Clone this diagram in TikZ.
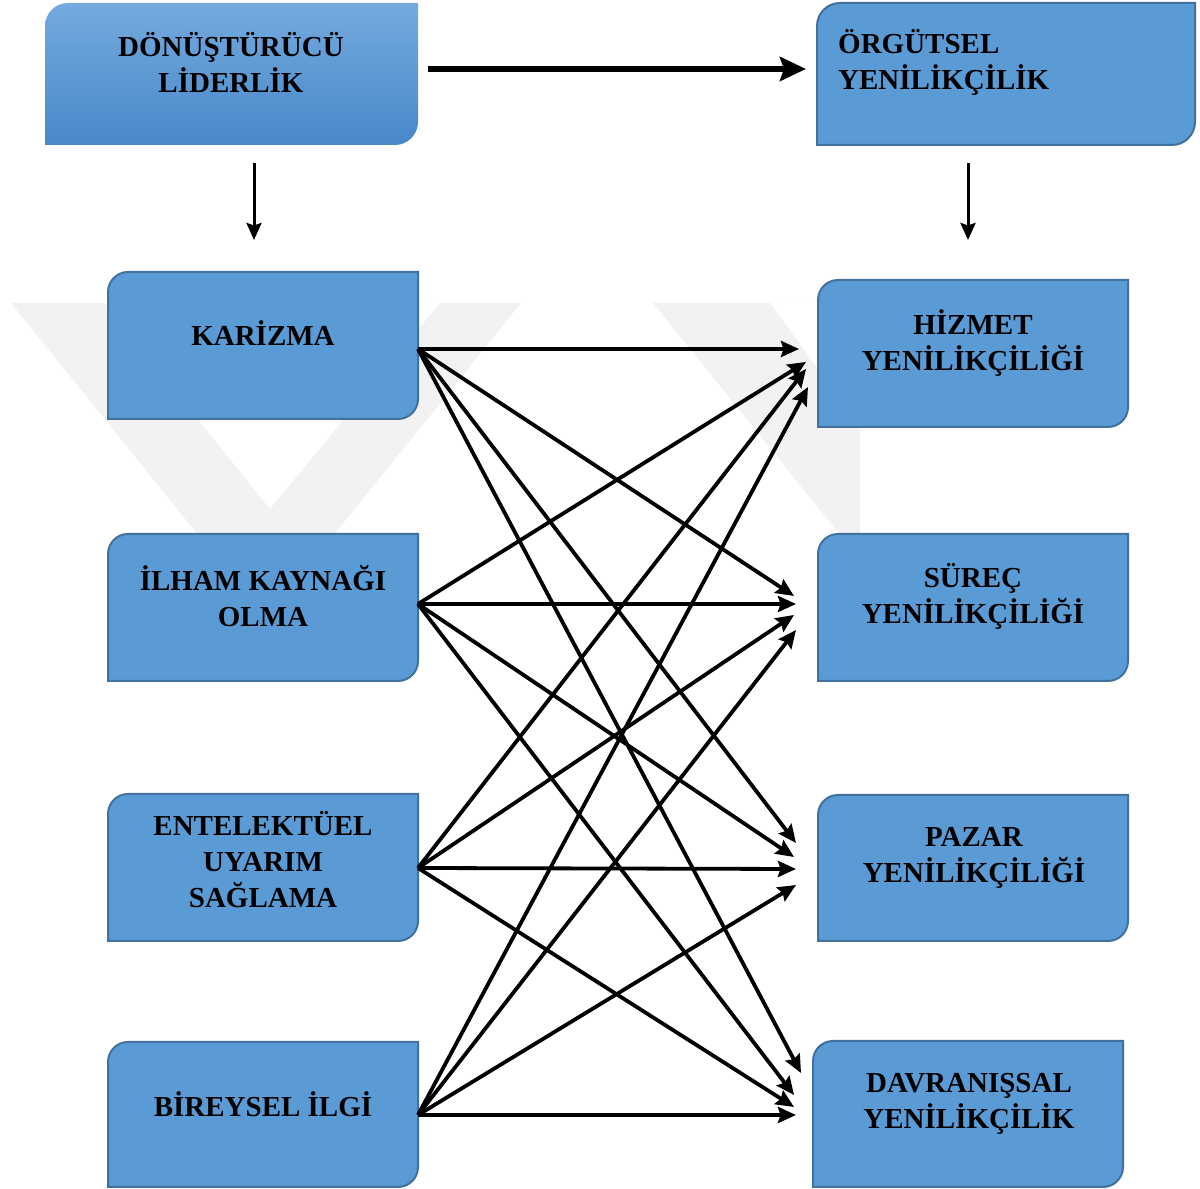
\documentclass[tikz,border=0pt]{standalone}
\usepackage{fontspec}
\setmainfont{Liberation Serif}
\usetikzlibrary{arrows.meta,fit}
\definecolor{boxblue}{HTML}{5B9BD5}
\definecolor{boxline}{HTML}{41719C}
\definecolor{gradtop}{HTML}{74AADF}
\definecolor{gradbot}{HTML}{4888C9}
\definecolor{wmark}{HTML}{F2F2F2}

% box with rounded top-left and bottom-right corners
% #1 radius, #2 name, #3 left, #4 top, #5 right, #6 bottom, #7 style
\newcommand\diagbox[7][20]{%
  \path[#7] (#3,#6) -- (#3,#4-#1) arc[start angle=180,end angle=90,radius=#1]
    -- (#5,#4) -- (#5,#6+#1) arc[start angle=0,end angle=-90,radius=#1] -- cycle;
  \node[fit={(#3,#6) (#5,#4)}, inner sep=0pt] (#2) {};
}

\tikzset{
  plainbox/.style={fill=boxblue, draw=boxline, line width=2pt},
  gradbox/.style={top color=gradtop, bottom color=gradbot},
  lbl/.style={font=\fontsize{29}{36}\selectfont\bfseries, align=center, inner sep=0pt},
  link/.style={line width=3.8pt, -{Stealth[length=18pt,width=16pt,inset=2.5pt]}},
  mainlink/.style={line width=6.5pt, -{Stealth[length=26pt,width=24pt,inset=4pt]}},
  downlink/.style={line width=3pt, -{Stealth[length=17pt,width=15pt,inset=2.5pt]}},
}

\begin{document}
\begin{tikzpicture}[x=1pt,y=1pt]
\useasboundingbox (0,0) rectangle (1200,1189);

% faint background mark
\begin{scope}
  \clip (0,499) rectangle (860,886);
  \fill[wmark, even odd rule] (11,886) -- (521,886) -- (266,570) -- cycle
        (104,886) -- (440,886) -- (270,680) -- cycle;
  \fill[wmark, even odd rule] (653,886) -- (1163,886) -- (908,570) -- cycle
        (770,886) -- (1064,886) -- (905,700) -- cycle;
\end{scope}

% boxes
\diagbox[23]{dl}{45}{1186}{418}{1044}{gradbox}
\diagbox[23]{og}{817}{1186}{1195}{1044}{plainbox}
\diagbox{ka}{108}{917}{418}{770}{plainbox}
\diagbox{hz}{818}{909}{1128}{762}{plainbox}
\diagbox{il}{108}{655}{418}{508}{plainbox}
\diagbox{sr}{818}{655}{1128}{508}{plainbox}
\diagbox{en}{108}{395}{418}{248}{plainbox}
\diagbox{pz}{818}{394}{1128}{248}{plainbox}
\diagbox{br}{108}{147}{418}{2}{plainbox}
\diagbox{dv}{813}{148}{1123}{2}{plainbox}

% labels
\node[lbl] (dl-t) at (231,1127) {DÖNÜŞTÜRÜCÜ\\LİDERLİK};
\node[lbl, align=left, anchor=west] (og-t) at (838,1127) {ÖRGÜTSEL\\YENİLİKÇİLİK};
\node[lbl] (ka-t) at (263,856) {KARİZMA};
\node[lbl] (hz-t) at (973,846) {HİZMET\\YENİLİKÇİLİĞİ};
\node[lbl] (il-t) at (263,593) {İLHAM KAYNAĞI\\OLMA};
\node[lbl] (sr-t) at (973,593) {SÜREÇ\\YENİLİKÇİLİĞİ};
\node[lbl] (en-t) at (263,329) {ENTELEKTÜEL\\UYARIM\\SAĞLAMA};
\node[lbl] (pz-t) at (974,331) {PAZAR\\YENİLİKÇİLİĞİ};
\node[lbl] (br-t) at (263,85) {BİREYSEL İLGİ};
\node[lbl] (dv-t) at (969,85) {DAVRANIŞSAL\\YENİLİKÇİLİK};

% connector end points
\coordinate (dlO) at (428,1120);
\coordinate (ogI) at (806,1120);
\coordinate (dlD) at (254,1026);
\coordinate (kaU) at (254,949);
\coordinate (ogD) at (968,1026);
\coordinate (hzU) at (968,949);

\coordinate (kaO) at (418,840);
\coordinate (ilO) at (418,585);
\coordinate (enO) at (418,321);
\coordinate (brO) at (418,74);

\coordinate (hzK) at (799,840);
\coordinate (hzI) at (806,827);
\coordinate (hzE) at (806,820);
\coordinate (hzB) at (808,802);
\coordinate (srK) at (794,593);
\coordinate (srI) at (796,585);
\coordinate (srE) at (794,574);
\coordinate (srB) at (796,559);
\coordinate (pzK) at (796,346);
\coordinate (pzI) at (794,332);
\coordinate (pzE) at (796,320);
\coordinate (pzB) at (796,304);
\coordinate (dvK) at (801,116);
\coordinate (dvI) at (794,94);
\coordinate (dvE) at (794,82);
\coordinate (dvB) at (796,74);

% connectors
\draw[mainlink] (dlO) -- (ogI);
\draw[downlink] (dlD) -- (kaU);
\draw[downlink] (ogD) -- (hzU);

\draw[link] (kaO) -- (hzK);
\draw[link] (kaO) -- (srK);
\draw[link] (kaO) -- (pzK);
\draw[link] (kaO) -- (dvK);
\draw[link] (ilO) -- (hzI);
\draw[link] (ilO) -- (srI);
\draw[link] (ilO) -- (pzI);
\draw[link] (ilO) -- (dvI);
\draw[link] (enO) -- (hzE);
\draw[link] (enO) -- (srE);
\draw[link] (enO) -- (pzE);
\draw[link] (enO) -- (dvE);
\draw[link] (brO) -- (hzB);
\draw[link] (brO) -- (srB);
\draw[link] (brO) -- (pzB);
\draw[link] (brO) -- (dvB);
\end{tikzpicture}
\end{document}
